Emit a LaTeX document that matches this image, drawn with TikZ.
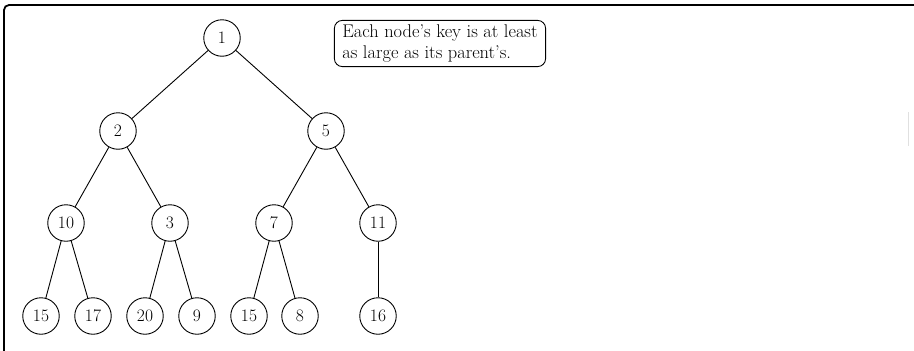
\documentclass[tikz,border=0pt]{standalone}
\usepackage{fontspec}
\begin{document}
\begin{tikzpicture}[x=1pt,y=-1pt,
  keynode/.style={circle,draw,line width=0.9pt,minimum size=36.5pt,inner sep=0pt,
    font=\fontsize{17.5}{20}\selectfont},
  link/.style={line width=0.9pt},
  note/.style={draw,line width=0.9pt,rounded corners=8pt,align=left,
    inner xsep=8pt,inner ysep=4pt,font=\fontsize{18.4}{21.7}\selectfont}]
\useasboundingbox (0,0) rectangle (914,351);
\begin{scope}
  \clip (0,0) rectangle (914,351);
  \draw[line width=1.8pt,rounded corners=5pt] (4,5) rectangle (930,370);
\end{scope}
\draw[black!12,line width=1pt] (908.5,112) -- (908.5,146);

% the heap, level by level
\node[keynode] (a)  at (222,38)  {1};
\node[keynode] (b)  at (118,131) {2};
\node[keynode] (c)  at (326,131) {5};
\node[keynode] (d)  at (66,223)  {10};
\node[keynode] (e)  at (170,223) {3};
\node[keynode] (f)  at (274,223) {7};
\node[keynode] (g)  at (378,223) {11};
\node[keynode] (h)  at (41,316)  {15};
\node[keynode] (i)  at (93,316)  {17};
\node[keynode] (j)  at (145,316) {20};
\node[keynode] (k)  at (197,316) {9};
\node[keynode] (l)  at (249,316) {15};
\node[keynode] (m)  at (300,316) {8};
\node[keynode] (n)  at (378,316) {16};

\draw[link] (a) -- (b);
\draw[link] (a) -- (c);
\draw[link] (b) -- (d);
\draw[link] (b) -- (e);
\draw[link] (c) -- (f);
\draw[link] (c) -- (g);
\draw[link] (d) -- (h);
\draw[link] (d) -- (i);
\draw[link] (e) -- (j);
\draw[link] (e) -- (k);
\draw[link] (f) -- (l);
\draw[link] (f) -- (m);
\draw[link] (g) -- (n);

\node[note] (rule) at (440,43.5) {Each node’s key is at least\\as large as its parent’s.};
\end{tikzpicture}
\end{document}
